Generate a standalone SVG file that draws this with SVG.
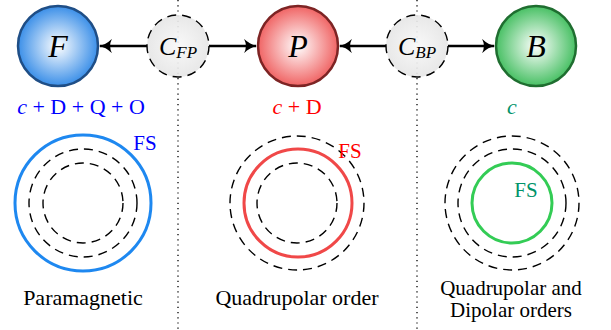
<svg xmlns="http://www.w3.org/2000/svg" width="611" height="330" viewBox="0 0 611 330">
<style>
.lbl{font-size:22px;fill:#000;text-anchor:middle;}
.lbl2{font-size:21px;fill:#000;text-anchor:middle;}
.it{font-style:italic;}
.dot{stroke:#000;stroke-width:1.3;stroke-dasharray:1.2 4;fill:none;}
.dash{stroke:#000;stroke-width:1.4;stroke-dasharray:9 6;fill:none;}
.arrow{stroke:#000;stroke-width:2.6;fill:none;marker-end:url(#ah);}
.cnode{fill:url(#gC);stroke:#000;stroke-width:1.4;stroke-dasharray:9 6;}
</style>
<defs>
<radialGradient id="gF"><stop offset="0" stop-color="#ffffff"/><stop offset="1" stop-color="#3b8fe8"/></radialGradient>
<radialGradient id="gP"><stop offset="0" stop-color="#ffffff"/><stop offset="1" stop-color="#f06464"/></radialGradient>
<radialGradient id="gB"><stop offset="0" stop-color="#ffffff"/><stop offset="1" stop-color="#48c064"/></radialGradient>
<radialGradient id="gC"><stop offset="0" stop-color="#f8f8f8" stop-opacity="0.92"/><stop offset="1" stop-color="#e6e6e6" stop-opacity="0.92"/></radialGradient>
<marker id="ah" viewBox="0 0 12 12" refX="10" refY="6" markerWidth="5.5" markerHeight="5.5" markerUnits="strokeWidth" orient="auto">
<path d="M0,0 Q5,5 11,6 Q5,7 0,12 Q3,6 0,0 Z" fill="#000"/>
</marker>
</defs>
<g id="separators">
<line class="dot" x1="178" y1="0" x2="178" y2="330"/>
<line class="dot" x1="417" y1="0" x2="417" y2="330"/>
</g>
<g id="connectors">
<line class="arrow" x1="147" y1="46" x2="100" y2="46"/>
<line class="arrow" x1="209" y1="46" x2="256" y2="46"/>
<line class="arrow" x1="386" y1="46" x2="340" y2="46"/>
<line class="arrow" x1="448" y1="46" x2="494" y2="46"/>
</g>
<g font-family="Liberation Serif, DejaVu Serif, serif">
<g id="node-F">
<circle cx="58" cy="46" r="40" fill="url(#gF)" stroke="#1f4e86" stroke-width="2.5"/>
<text class="it" x="58" y="57" font-size="32" text-anchor="middle">F</text>
</g>
<g id="node-CFP">
<circle class="cnode" cx="178" cy="46" r="31"/>
<text class="it" x="178" y="55" text-anchor="middle"><tspan font-size="26">C</tspan><tspan font-size="17" dy="3">FP</tspan></text>
</g>
<g id="node-P">
<circle cx="298" cy="46" r="40" fill="url(#gP)" stroke="#7d2424" stroke-width="2.5"/>
<text class="it" x="298" y="57" font-size="32" text-anchor="middle">P</text>
</g>
<g id="node-CBP">
<circle class="cnode" cx="417" cy="46" r="31"/>
<text class="it" x="417" y="55" text-anchor="middle"><tspan font-size="26">C</tspan><tspan font-size="17" dy="3">BP</tspan></text>
</g>
<g id="node-B">
<circle cx="536" cy="46" r="40" fill="url(#gB)" stroke="#1f6e30" stroke-width="2.5"/>
<text class="it" x="536" y="57" font-size="32" text-anchor="middle">B</text>
</g>
<g id="channels">
<text x="81" y="114" font-size="22" fill="#0000ff" text-anchor="middle"><tspan font-style="italic">c</tspan> + D + Q + O</text>
<text x="297" y="114" font-size="22" fill="#ff0000" text-anchor="middle"><tspan font-style="italic">c</tspan> + D</text>
<text class="it" x="512" y="114" font-size="22" fill="#00936a" text-anchor="middle">c</text>
</g>
<g id="panel-paramagnetic">
<circle cx="83" cy="203" r="68" fill="none" stroke="#1e88f0" stroke-width="3"/>
<circle class="dash" cx="83" cy="203" r="54"/>
<circle class="dash" cx="83" cy="203" r="40"/>
<text x="145" y="150" font-size="21" fill="#0000ff" text-anchor="middle">FS</text>
<text class="lbl" x="83" y="305">Paramagnetic</text>
</g>
<g id="panel-quadrupolar">
<circle class="dash" cx="297" cy="203" r="67"/>
<circle cx="298" cy="203" r="54" fill="none" stroke="#f04848" stroke-width="3"/>
<circle class="dash" cx="297" cy="203" r="40"/>
<text x="350" y="158" font-size="21" fill="#ff0000" text-anchor="middle">FS</text>
<text class="lbl" x="297" y="305">Quadrupolar order</text>
</g>
<g id="panel-dipolar">
<circle class="dash" cx="512" cy="203" r="67"/>
<circle class="dash" cx="512" cy="203" r="54"/>
<circle cx="512" cy="203" r="40" fill="none" stroke="#33cc55" stroke-width="3"/>
<text x="526" y="197" font-size="21" fill="#00936a" text-anchor="middle">FS</text>
<text class="lbl2" x="511" y="295">Quadrupolar and</text>
<text class="lbl2" x="511" y="317">Dipolar orders</text>
</g>
</g>
</svg>
